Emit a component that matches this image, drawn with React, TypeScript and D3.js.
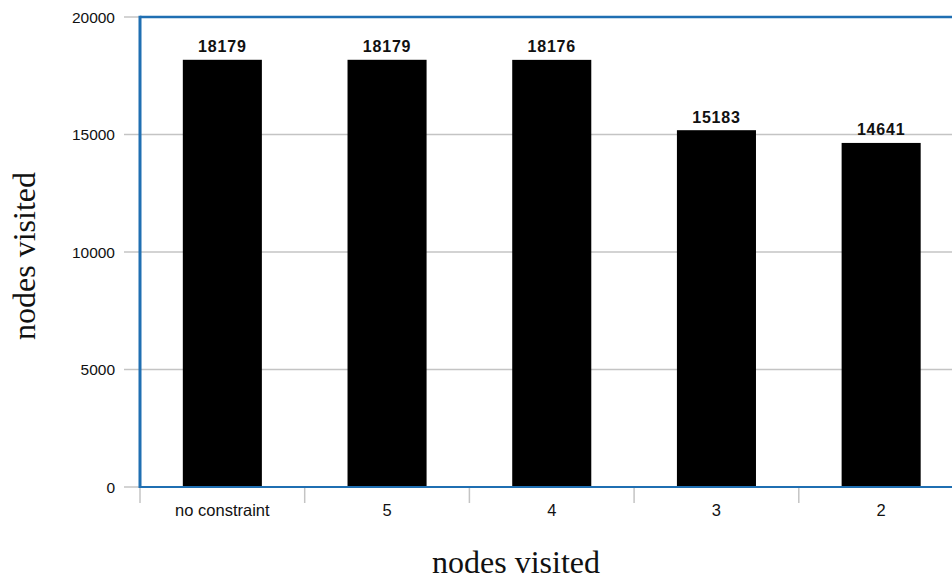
import React from "react";
import * as d3 from "d3";

const categories = ["no constraint", "5", "4", "3", "2"];
const values = [18179, 18179, 18176, 15183, 14641];
const yTicks = [0, 5000, 10000, 15000, 20000];
const axisTitle = "nodes visited";

const W = 952;
const H = 580;
const left = 140;
const top = 17;
const bottom = 487;
const step = 164.7;
const right = left + step * categories.length;
const blue = "#1f6fb2";
const gray = "#c4c4c4";

export default function App() {
  const x = d3
    .scaleBand<string>()
    .domain(categories)
    .range([left, right])
    .paddingInner(0.52)
    .paddingOuter(0.26);
  const y = d3.scaleLinear().domain([0, 20000]).range([bottom, top]);
  const boundaries = d3.range(categories.length + 1).map((i) => left + i * x.step());

  return (
    <svg
      width={W}
      height={H}
      style={{ position: "absolute", left: 0, top: 0, display: "block", background: "#fff" }}
    >
      {yTicks.filter((t) => t > 0 && t < 20000).map((t) => (
        <line key={"g" + t} x1={left} x2={right} y1={y(t)} y2={y(t)} stroke={gray} strokeWidth={1.5} />
      ))}
      {yTicks.map((t) => (
        <g key={"y" + t}>
          <line x1={124} x2={left} y1={y(t)} y2={y(t)} stroke={gray} strokeWidth={1.5} />
          <text
            x={115}
            y={y(t)}
            dy="0.36em"
            textAnchor="end"
            fontFamily="'Liberation Sans', Arial, sans-serif"
            fontSize={15.5}
            fill="#111"
          >
            {t}
          </text>
        </g>
      ))}
      {boundaries.map((bx, i) => (
        <line key={"xt" + i} x1={bx} x2={bx} y1={bottom} y2={503} stroke={gray} strokeWidth={1.5} />
      ))}
      {categories.map((c) => (
        <text
          key={"xl" + c}
          x={(x(c) as number) + x.bandwidth() / 2}
          y={516}
          textAnchor="middle"
          fontFamily="'Liberation Sans', Arial, sans-serif"
          fontSize={16.5}
          fill="#111"
        >
          {c}
        </text>
      ))}
      {categories.map((c, i) => (
        <rect
          key={"b" + c}
          x={x(c) as number}
          y={y(values[i])}
          width={x.bandwidth()}
          height={bottom - y(values[i])}
          fill="#000"
        />
      ))}
      {categories.map((c, i) => (
        <text
          key={"v" + c}
          x={(x(c) as number) + x.bandwidth() / 2}
          y={y(values[i]) - 7.5}
          textAnchor="middle"
          fontFamily="'Liberation Sans', Arial, sans-serif"
          fontWeight="bold"
          fontSize={16}
          letterSpacing={0.8}
          fill="#111"
        >
          {values[i]}
        </text>
      ))}
      <line x1={left} x2={right} y1={top} y2={top} stroke={blue} strokeWidth={2.5} />
      <line x1={left} x2={left} y1={top - 1.2} y2={bottom + 1} stroke={blue} strokeWidth={3} />
      <line x1={left} x2={right} y1={bottom} y2={bottom} stroke={blue} strokeWidth={2} />
      <line x1={right} x2={right} y1={top} y2={bottom} stroke={blue} strokeWidth={2.5} />
      <text
        x={516}
        y={573}
        textAnchor="middle"
        fontFamily="'Liberation Serif', 'Times New Roman', serif"
        fontSize={32}
        fill="#111"
      >
        {axisTitle}
      </text>
      <text
        transform="translate(35,256) rotate(-90)"
        textAnchor="middle"
        fontFamily="'Liberation Serif', 'Times New Roman', serif"
        fontSize={32}
        fill="#111"
      >
        {axisTitle}
      </text>
    </svg>
  );
}
